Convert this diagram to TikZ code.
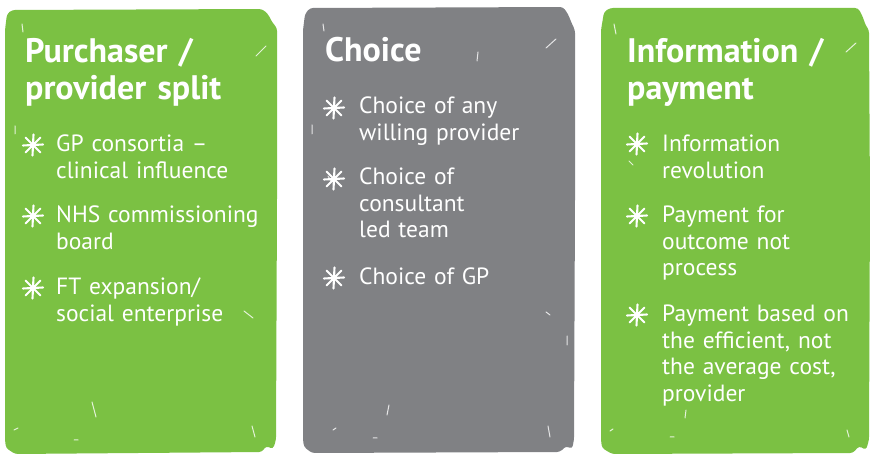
\documentclass[tikz,border=0pt]{standalone}
\usepackage{fontspec}
\setmainfont{PT Sans}
\definecolor{nhsgreen}{HTML}{7BC143}
\definecolor{nhsgrey}{HTML}{808184}
\tikzset{
  panelg/.style={fill=nhsgreen, draw=none, rounded corners=3pt},
  panelgr/.style={fill=nhsgrey, draw=none, rounded corners=3pt},
  ttl/.style={anchor=base west, inner sep=0pt, text=white, text width=260pt, align=left,
    font=\fontsize{34}{37}\selectfont\bfseries},
  itm/.style={anchor=base west, inner sep=0pt, text=white, text width=215pt, align=left,
    font=\fontsize{23.5}{26.5}\selectfont},
  scratch/.style={draw=white, line width=1pt, opacity=0.8, line cap=round},
  astk/.pic={\draw[white, line width=2.1pt, line cap=round]
     (-10,0.5)--(10,-0.5) (0.5,-10.5)--(-0.5,10.5) (-7.5,-7.5)--(7.5,7.5) (-7.5,7.5)--(7.5,-7.5);}
}
\begin{document}
\begin{tikzpicture}[x=1pt,y=-1pt]
\useasboundingbox (0,0) rectangle (871,454);
% panels
\path[panelg] (5,30) -- (7,14) -- (12,10) -- (262,9) -- (268,14) -- (272,22) -- (277,28)
  -- (277,200) -- (276,440) -- (273,449) -- (266,446) -- (262,452) -- (15,454) -- (6,448) -- (5,440) -- cycle;
\path[panelgr] (303,30) -- (305,14) -- (310,8) -- (563,7) -- (568,14) -- (572,24) -- (575,30)
  -- (575,200) -- (574,440) -- (572,449) -- (566,446) -- (560,452) -- (312,453) -- (304,447) -- (303,440) -- cycle;
\path[panelg] (601,30) -- (604,12) -- (610,8) -- (858,8) -- (862,15) -- (866,26) -- (869,30)
  -- (870,200) -- (869,440) -- (866,450) -- (859,446) -- (853,453) -- (612,454) -- (602,448) -- (601,440) -- cycle;
% scratches
\draw[scratch] (22,24)--(23,32) (256,56)--(266,46) (15,126)--(15,134) (244,311)--(253,318)
  (92,402)--(96,417) (14,430)--(18,428) (252,426)--(255,437) (74,440)--(78,440);
\draw[scratch] (323,24)--(324,31) (478,52)--(477,61) (546,48)--(556,39) (312,125)--(312,134)
  (328,176)--(331,181) (546,312)--(550,315) (567,336)--(567,345) (389,405)--(387,415)
  (548,426)--(550,437) (333,430)--(336,428) (373,438)--(377,438);
\draw[scratch] (614,24)--(616,34) (846,52)--(856,43) (629,161)--(633,165) (686,410)--(685,418)
  (847,430)--(849,437) (610,431)--(613,429) (670,437)--(674,437);
% titles
\node[ttl] (t1) at (25,63) {Purchaser /\\provider split};
\node[ttl] (t2) at (325,62) {Choice};
\node[ttl] (t3) at (627,63) {Information /\\payment};
% left items
\pic at (33,145) {astk};
\node[itm] (l1) at (56,152) {GP consortia –\\clinical influence};
\pic at (33,216) {astk};
\node[itm] (l2) at (56,223) {NHS commissioning\\board};
\pic at (33,288) {astk};
\node[itm] (l3) at (56,295) {FT expansion/\\social enterprise};
% middle items
\pic at (334,108) {astk};
\node[itm] (m1) at (359,114) {Choice of any\\willing provider};
\pic at (334,179) {astk};
\node[itm] (m2) at (359,185) {Choice of\\consultant\\led team};
\pic at (334,278) {astk};
\node[itm] (m3) at (359,285) {Choice of GP};
% right items
\pic at (637,144) {astk};
\node[itm] (r1) at (662,152) {Information\\revolution};
\pic at (637,216) {astk};
\node[itm] (r2) at (662,223) {Payment for\\outcome not\\process};
\pic at (637,315) {astk};
\node[itm] (r3) at (662,322) {Payment based on\\the efficient, not\\the average cost,\\provider};
\end{tikzpicture}
\end{document}
